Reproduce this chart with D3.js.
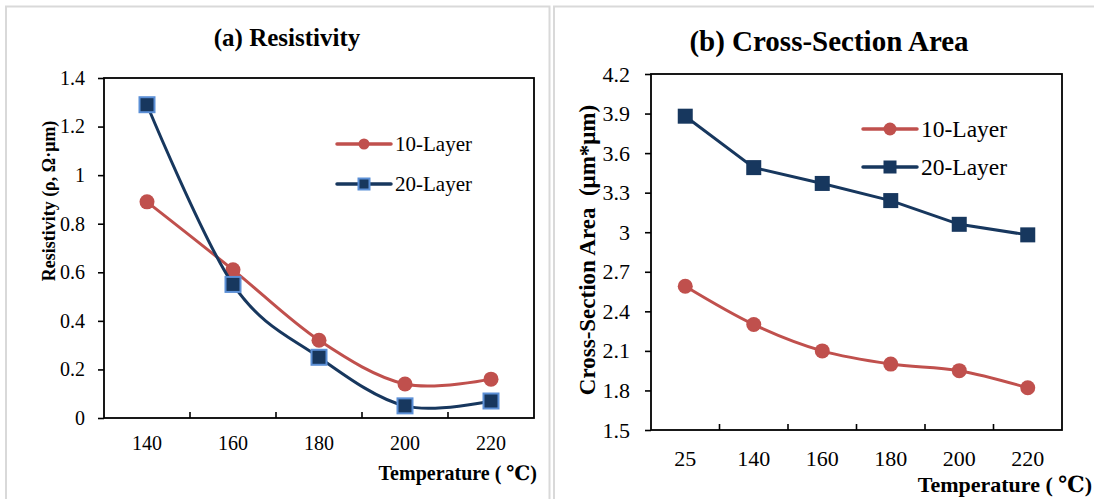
<!DOCTYPE html>
<html>
<head>
<meta charset="utf-8">
<script src="https://cdn.jsdelivr.net/npm/d3@7"></script>
<style>
  body { margin: 0; background: #fff; }
  svg text { font-family: 'Liberation Serif', 'Times New Roman', 'DejaVu Serif', serif; white-space: pre; }
</style>
</head>
<body>
<div id="chart"></div>
<script>
// Data - panel (a)
let tempsA = ['140', '160', '180', '200', '220'];
let resist10 = [0.89, 0.61, 0.32, 0.14, 0.16];
let resist20 = [1.29, 0.55, 0.25, 0.05, 0.07];
let ticksA = [0, 0.2, 0.4, 0.6, 0.8, 1, 1.2, 1.4];

// Data - panel (b)
let tempsB = ['25', '140', '160', '180', '200', '220'];
let area10 = [2.59, 2.30, 2.10, 2.00, 1.95, 1.82];
let area20 = [3.88, 3.49, 3.37, 3.24, 3.06, 2.98];
let ticksB = [1.5, 1.8, 2.1, 2.4, 2.7, 3.0, 3.3, 3.6, 3.9, 4.2];

let red = '#C0504D';
let navy = '#17375E';
let lightBlue = '#5B8FD6';
let serif = "'Liberation Serif', 'Times New Roman', 'DejaVu Serif', serif";

let svg = d3.select('#chart')
  .append('svg')
  .attr('width', 1094)
  .attr('height', 499)
  .attr('font-family', serif);

// Panel borders
svg.append('rect').attr('x', 6).attr('y', 6.5).attr('width', 543.5).attr('height', 500)
  .attr('fill', 'none').attr('stroke', '#d9d9d9').attr('stroke-width', 2);
svg.append('rect').attr('x', 554).attr('y', 6.5).attr('width', 560).attr('height', 500)
  .attr('fill', 'none').attr('stroke', '#d9d9d9').attr('stroke-width', 2);

function drawPanel(p) {
  let x = d3.scaleBand().domain(p.cats).range([p.left, p.right]);
  let y = d3.scaleLinear().domain(p.domain).range([p.bottom, p.top]);
  let g = svg.append('g');
  let cx = d => x(d) + x.bandwidth() / 2;

  // Frame
  g.append('rect')
    .attr('x', p.left).attr('y', p.top)
    .attr('width', p.right - p.left).attr('height', p.bottom - p.top)
    .attr('fill', 'none').attr('stroke', '#000').attr('stroke-width', 1.8);

  // Y axis
  let ya = g.append('g')
    .attr('transform', `translate(${p.left},0)`)
    .call(d3.axisLeft(y).tickValues(p.ticks).tickSize(6).tickPadding(p.tickPad)
      .tickFormat(d => p.fmt(d)));
  ya.attr('font-family', serif);
  ya.select('.domain').remove();
  ya.selectAll('line').attr('stroke-width', 1.6);
  ya.selectAll('text').attr('font-size', p.tickSize).attr('fill', '#000');

  // X axis (ticks between categories, pointing inward)
  let bounds = p.cats.slice(1).map(c => x(c));
  g.selectAll('.xt').data(bounds).enter().append('line')
    .attr('x1', d => d).attr('x2', d => d)
    .attr('y1', p.bottom).attr('y2', p.bottom - 6)
    .attr('stroke', '#000').attr('stroke-width', 1.6);
  g.selectAll('.xl').data(p.cats).enter().append('text')
    .attr('x', d => cx(d)).attr('y', p.bottom + p.xLabelDy)
    .attr('text-anchor', 'middle')
    .attr('font-size', p.tickSize)
    .text(d => d);

  // Series
  p.series.forEach(s => {
    let pts = p.cats.map((c, i) => [cx(c), y(s.values[i])]);
    g.append('path')
      .attr('d', d3.line().curve(s.smooth ? d3.curveCardinal.tension(0) : d3.curveLinear)(pts))
      .attr('fill', 'none').attr('stroke', s.color).attr('stroke-width', 3);
    pts.forEach(pt => marker(g, s, pt[0], pt[1], p.markSize));
  });

  // Legend
  p.series.forEach((s, i) => {
    let ly = p.legY + i * p.legGap;
    g.append('line')
      .attr('x1', p.legX).attr('x2', p.legX + p.legLen)
      .attr('y1', ly).attr('y2', ly)
      .attr('stroke', s.color).attr('stroke-width', 3.5).attr('stroke-linecap', 'round');
    marker(g, s, p.legX + p.legLen / 2, ly, p.legMark);
    g.append('text')
      .attr('x', p.legX + p.legLen + 4).attr('y', ly)
      .attr('dy', '0.35em')
      .attr('font-size', p.legFont)
      .text(s.name);
  });

  // Titles
  g.append('text')
    .attr('x', p.titleX).attr('y', p.titleY)
    .attr('text-anchor', 'middle')
    .attr('font-weight', 'bold').attr('font-size', p.titleSize)
    .text(p.title);
  g.append('text')
    .attr('x', p.xTitleX).attr('y', p.xTitleY)
    .attr('text-anchor', 'end')
    .attr('font-weight', 'bold').attr('font-size', p.xTitleSize)
    .text('Temperature ( \u2103)');
  g.append('text')
    .attr('transform', `translate(${p.yTitleX},${p.yTitleY}) rotate(-90)`)
    .attr('text-anchor', 'middle')
    .attr('font-weight', 'bold').attr('font-size', p.yTitleSize)
    .text(p.yTitle);
}

function marker(g, s, mx, my, size) {
  if (s.shape === 'circle') {
    g.append('circle')
      .attr('cx', mx).attr('cy', my).attr('r', size / 2)
      .attr('fill', s.color);
  } else {
    g.append('rect')
      .attr('x', mx - size / 2).attr('y', my - size / 2)
      .attr('width', size).attr('height', size)
      .attr('fill', s.color)
      .attr('stroke', s.stroke || 'none').attr('stroke-width', s.stroke ? 2 : 0);
  }
}

drawPanel({
  cats: tempsA, domain: [0, 1.4], ticks: ticksA,
  fmt: d => d3.format('')(+d.toFixed(1)),
  left: 104, right: 534, top: 78, bottom: 418,
  tickSize: 20, tickPad: 13, xLabelDy: 32,
  markSize: 15, legX: 337, legLen: 54, legY: 144, legGap: 40, legMark: 11, legFont: 21,
  title: '(a) Resistivity', titleX: 287, titleY: 46, titleSize: 25,
  xTitleX: 537, xTitleY: 480, xTitleSize: 20,
  yTitle: 'Resistivity (\u03c1, \u03a9\u00b7\u03bcm)', yTitleX: 55, yTitleY: 201, yTitleSize: 18,
  series: [
    { name: '10-Layer', values: resist10, color: red, shape: 'circle', smooth: true },
    { name: '20-Layer', values: resist20, color: navy, shape: 'square', stroke: lightBlue, smooth: true }
  ]
});

drawPanel({
  cats: tempsB, domain: [1.5, 4.2], ticks: ticksB,
  fmt: d => d3.format('')(+d.toFixed(1)),
  left: 651, right: 1062, top: 74, bottom: 430,
  tickSize: 22, tickPad: 15, xLabelDy: 36,
  markSize: 15, legX: 863, legLen: 54, legY: 129, legGap: 38, legMark: 13, legFont: 23.5,
  title: '(b) Cross-Section Area', titleX: 829, titleY: 51, titleSize: 29,
  xTitleX: 1092, xTitleY: 492, xTitleSize: 22,
  yTitle: 'Cross-Section Area  (\u03bcm*\u03bcm)', yTitleX: 595, yTitleY: 250, yTitleSize: 23,
  series: [
    { name: '10-Layer', values: area10, color: red, shape: 'circle', smooth: true },
    { name: '20-Layer', values: area20, color: navy, shape: 'square', smooth: false }
  ]
});
</script>
</body>
</html>
